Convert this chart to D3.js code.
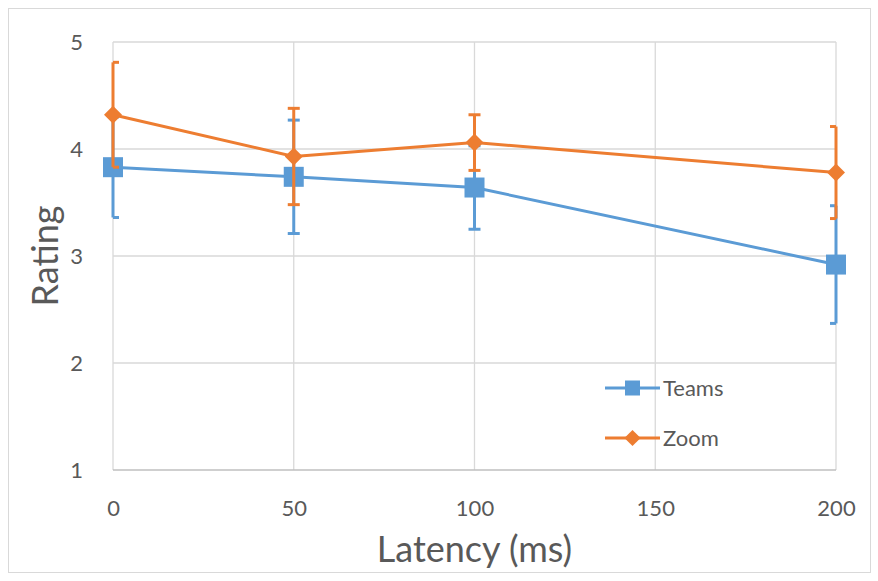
<!DOCTYPE html>
<html><head><meta charset="utf-8">
<script src="https://cdn.jsdelivr.net/npm/d3@7"></script>
<style>body{margin:0;background:#fff}svg{display:block}</style>
</head><body><svg id="c" width="878" height="581"></svg>
<script>
const latency = [0, 50, 100, 200];
const teamsMean = [3.83, 3.74, 3.64, 2.92];
const teamsErr  = [0.47, 0.53, 0.39, 0.55];
const zoomMean  = [4.32, 3.93, 4.06, 3.78];
const zoomErr   = [0.49, 0.45, 0.26, 0.43];
const xTicks = [0, 50, 100, 150, 200];
const yTicks = [1, 2, 3, 4, 5];
const seriesNames = ["Teams", "Zoom"];

const svg = d3.select("#c");
const font = "Lato, 'Open Sans', sans-serif";
const tc = "#595959";
const x = d3.scaleLinear().domain([0, 200]).range([113, 836]);
const y = d3.scaleLinear().domain([1, 5]).range([470, 42]);

svg.append("rect").attr("x", 8.5).attr("y", 8.5).attr("width", 862).attr("height", 564)
  .attr("fill", "#fff").attr("stroke", "#d9d9d9");

svg.append("clipPath").attr("id", "pc").append("rect")
  .attr("x", x(0)).attr("y", y(5) - 10).attr("width", x(200) - x(0)).attr("height", y(1) - y(5) + 20);

// gridlines
svg.append("g").selectAll("line").data(yTicks.slice(1)).join("line")
  .attr("x1", x(0)).attr("x2", x(200)).attr("y1", d => y(d)).attr("y2", d => y(d))
  .attr("stroke", "#d9d9d9").attr("stroke-width", 1.3);
svg.append("g").selectAll("line").data(xTicks).join("line")
  .attr("x1", d => x(d)).attr("x2", d => x(d)).attr("y1", y(5)).attr("y2", y(1))
  .attr("stroke", "#d9d9d9").attr("stroke-width", 1.3);
svg.append("line").attr("x1", x(0)).attr("x2", x(200)).attr("y1", y(1)).attr("y2", y(1))
  .attr("stroke", "#bfbfbf").attr("stroke-width", 1.3);

// axes (labels via d3 axes)
const xa = svg.append("g").attr("transform", `translate(0,${y(1)})`)
  .call(d3.axisBottom(x).tickValues(xTicks).tickSize(0).tickPadding(30));
const ya = svg.append("g").attr("transform", `translate(${x(0)},0)`)
  .call(d3.axisLeft(y).tickValues(yTicks).tickSize(0).tickPadding(30).tickFormat(d3.format("d")));
[xa, ya].forEach(a => {
  a.select(".domain").remove();
  a.selectAll("text").attr("font-family", font).attr("font-size", 22).attr("fill", tc);
});
ya.selectAll("text").attr("dy", "0.35em");

svg.append("text").attr("x", x(100)).attr("y", 562).attr("text-anchor", "middle")
  .attr("font-family", font).attr("font-size", 36).attr("fill", tc).text("Latency (ms)");
svg.append("text").attr("transform", `translate(58,${y(3)}) rotate(-90)`).attr("text-anchor", "middle")
  .attr("font-family", font).attr("font-size", 36).attr("fill", tc).text("Rating");

const series = [
  {name: seriesNames[0], mean: teamsMean, err: teamsErr, color: "#5B9BD5", shape: "square"},
  {name: seriesNames[1], mean: zoomMean, err: zoomErr, color: "#ED7D31", shape: "diamond"}
];
const line = d3.line().x((d, i) => x(latency[i])).y(d => y(d));

function marker(g, s, cx, cy, scale) {
  if (s.shape === "square") {
    const w = 20 * scale;
    g.append("rect").attr("x", cx - w / 2).attr("y", cy - w / 2).attr("width", w).attr("height", w)
      .attr("fill", s.color);
  } else {
    const r = 9 * scale;
    g.append("path").attr("d", `M${cx},${cy - r}L${cx + r},${cy}L${cx},${cy + r}L${cx - r},${cy}Z`)
      .attr("fill", s.color);
  }
}

series.forEach(s => {
  const g = svg.append("g");
  const caps = g.append("g").attr("clip-path", "url(#pc)");
  s.mean.forEach((m, i) => {
    const cx = x(latency[i]);
    g.append("line").attr("x1", cx).attr("x2", cx).attr("y1", y(m - s.err[i])).attr("y2", y(m + s.err[i]))
      .attr("stroke", s.color).attr("stroke-width", 3);
    [m - s.err[i], m + s.err[i]].forEach(v => {
      caps.append("line").attr("x1", cx - 6).attr("x2", cx + 6).attr("y1", y(v)).attr("y2", y(v))
        .attr("stroke", s.color).attr("stroke-width", 3);
    });
  });
  g.append("path").attr("d", line(s.mean)).attr("fill", "none").attr("stroke", s.color).attr("stroke-width", 3);
  s.mean.forEach((m, i) => marker(g, s, x(latency[i]), y(m), 1));
});

// legend
series.forEach((s, i) => {
  const ly = 388 + i * 50;
  const g = svg.append("g");
  g.append("line").attr("x1", 605).attr("x2", 660).attr("y1", ly).attr("y2", ly)
    .attr("stroke", s.color).attr("stroke-width", 3);
  marker(g, s, 632.5, ly, s.shape === "square" ? 0.75 : 0.9);
  g.append("text").attr("x", 663).attr("y", ly).attr("dy", "0.35em")
    .attr("font-family", font).attr("font-size", 22).attr("fill", tc).text(s.name);
});
</script></body></html>
